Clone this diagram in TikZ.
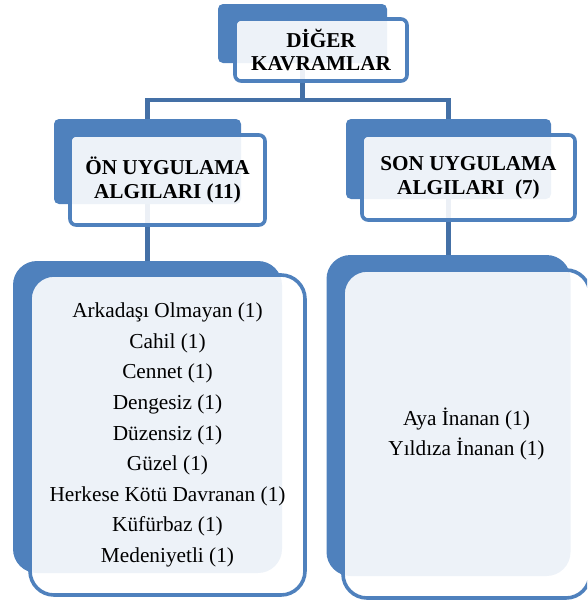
\documentclass[tikz,border=0pt]{standalone}
\usepackage{fontspec}
\setmainfont{Liberation Serif}
\definecolor{boxblue}{HTML}{4F81BD}
\definecolor{linkblue}{HTML}{4470A6}
\begin{document}
\begin{tikzpicture}[x=1pt,y=-1pt,
  backbox/.style={draw=none, inner sep=0pt, outer sep=0pt},
  frontbox/.style={draw=boxblue, line width=3.6pt, fill=white, fill opacity=0.9, text opacity=1, inner sep=0pt, outer sep=0pt, align=center},
  headtext/.style={font=\fontsize{21.2}{23.5}\selectfont\bfseries},
  bodytext/.style={font=\fontsize{21.3}{30.6}\selectfont},
  link/.style={draw=linkblue, line width=4.8pt}]
\useasboundingbox (0,0) rectangle (587,603);
\clip (0,0) rectangle (587,603);
% back boxes (positions)
\node[backbox, minimum width=169pt, minimum height=59pt] (topback) at (302.5,33.5) {};
\node[backbox, minimum width=187pt, minimum height=85pt] (lback) at (147.5,161.5) {};
\node[backbox, minimum width=205pt, minimum height=80pt] (rback) at (448.5,159) {};
\node[backbox, minimum width=269pt, minimum height=312pt] (lbodyback) at (147.5,417) {};
\node[backbox, minimum width=244pt, minimum height=321pt] (rbodyback) at (448.5,415.5) {};
% connectors (beneath the boxes)
\coordinate (busL) at (147.5,100);
\coordinate (busR) at (448.5,100);
\path[link] (topback.center) -- (topback.center |- busL);
\path[link, line join=miter] (lback.center) -- (busL) -- (busR) -- (rback.center);
\path[link] (lback.center) -- (lbodyback.north);
\path[link] (rback.center) -- (rbodyback.north);
% back boxes filled over the connectors
\fill[boxblue, rounded corners=5pt] (topback.north west) rectangle (topback.south east);
\fill[boxblue, rounded corners=5pt] (lback.north west) rectangle (lback.south east);
\fill[boxblue, rounded corners=5pt] (rback.north west) rectangle (rback.south east);
\fill[boxblue, rounded corners=24pt] (lbodyback.north west) rectangle (lbodyback.south east);
\fill[boxblue, rounded corners=24pt] (rbodyback.north west) rectangle (rbodyback.south east);
% front boxes
\node[frontbox, headtext, rounded corners=6pt, minimum width=172pt, minimum height=62pt] (top) at (321,50) {\raisebox{-3pt}{\parbox{170pt}{\centering DİĞER\\KAVRAMLAR}}};
\node[frontbox, headtext, rounded corners=6pt, minimum width=195pt, minimum height=90pt] (lhead) at (167.5,180) {ÖN UYGULAMA\\ALGILARI (11)};
\node[frontbox, headtext, rounded corners=6pt, minimum width=213pt, minimum height=85pt] (rhead) at (468.5,177.5) {SON UYGULAMA\\ALGILARI~~(7)};
\node[frontbox, bodytext, rounded corners=24pt, minimum width=275pt, minimum height=320pt] (lbody) at (167.5,435) {Arkadaşı Olmayan (1)\\Cahil (1)\\Cennet (1)\\Dengesiz (1)\\Düzensiz (1)\\Güzel (1)\\Herkese Kötü Davranan (1)\\Küfürbaz (1)\\Medeniyetli (1)};
\node[frontbox, bodytext, rounded corners=24pt, minimum width=247pt, minimum height=328pt] (rbody) at (466.5,434) {Aya İnanan (1)\\Yıldıza İnanan (1)};
\end{tikzpicture}
\end{document}
